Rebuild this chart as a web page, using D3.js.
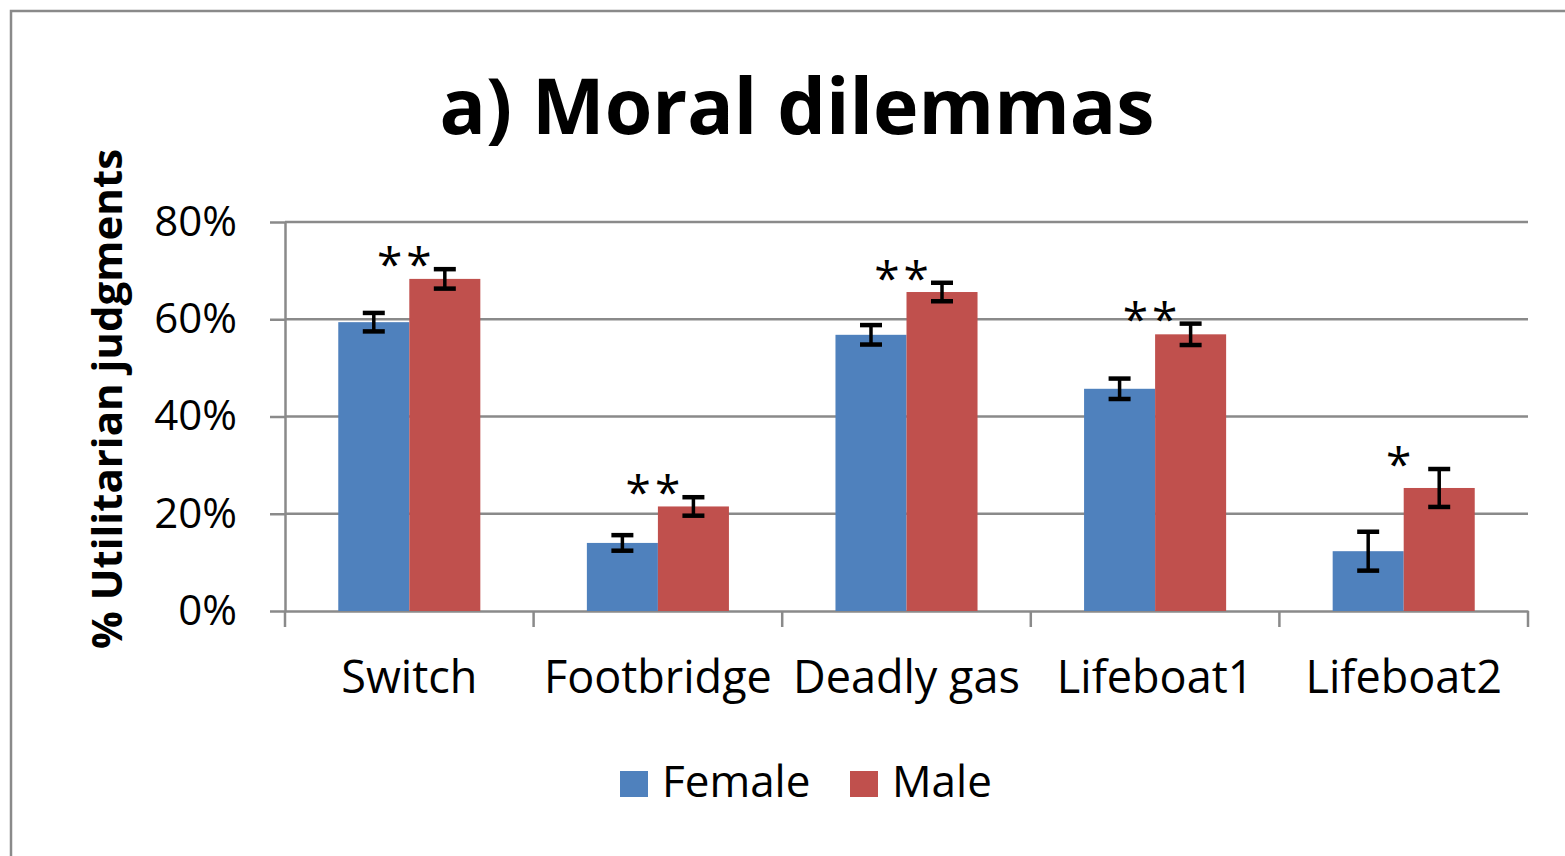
<!DOCTYPE html>
<meta charset="utf-8">
<head>
<style>
body { margin: 0; background: #fff; }
text { font-family: "Open Sans", sans-serif; fill: #000; }
.grid line { stroke: #8a8a8a; stroke-width: 2.5px; }
.axis path, .axis line { stroke: #8a8a8a; stroke-width: 2.5px; }
.axis text { font-size: 42px; }
.err { stroke: #000; stroke-width: 3.5px; }
</style>
</head>
<body>
<script src="https://d3js.org/d3.v7.min.js"></script>
<script>

// data
var categories = ["Switch", "Footbridge", "Deadly gas", "Lifeboat1", "Lifeboat2"];
var seriesNames = ["Female", "Male"];
var female = [0.594, 0.140, 0.568, 0.457, 0.123];
var male = [0.683, 0.215, 0.656, 0.569, 0.253];
var femaleErr = [0.019, 0.016, 0.020, 0.021, 0.040];
var maleErr = [0.020, 0.019, 0.019, 0.022, 0.039];
var signif = ["**", "**", "**", "**", "*"];
var yTicks = [0, 0.2, 0.4, 0.6, 0.8];
var colors = ["#4f81bd", "#c0504d"];

var W = 1565, H = 856;
var margin = {top: 222, right: 37, bottom: 245, left: 285},
    width = W - margin.left - margin.right,
    height = H - margin.top - margin.bottom;

var svg = d3.select("body").append("svg")
    .attr("width", W)
    .attr("height", H);

// outer frame (runs off the right and bottom edges)
svg.append("rect")
    .attr("x", 11).attr("y", 11)
    .attr("width", W + 20).attr("height", H + 20)
    .attr("fill", "none")
    .attr("stroke", "#8a8a8a")
    .attr("stroke-width", 2.5);

var g = svg.append("g")
    .attr("transform", "translate(" + margin.left + "," + margin.top + ")");

var x0 = d3.scaleBand().domain(categories).range([0, width]).padding(0);
var x1 = d3.scaleBand().domain(seriesNames).range([0, x0.bandwidth()])
    .paddingInner(0).paddingOuter(0.75);
var y = d3.scaleLinear().domain([0, 0.8]).range([height, 0]);

// gridlines
g.append("g").attr("class", "grid")
  .selectAll("line")
  .data(yTicks.slice(1))
  .enter().append("line")
    .attr("x1", 0).attr("x2", width)
    .attr("y1", function(d) { return y(d); })
    .attr("y2", function(d) { return y(d); });

// y axis
var yAxis = g.append("g").attr("class", "axis")
    .call(d3.axisLeft(y).tickValues(yTicks)
      .tickFormat(d3.format(".0%")).tickSize(15).tickPadding(33).tickSizeOuter(0));

// x axis: labels centred, ticks on category boundaries
var xAxis = g.append("g").attr("class", "axis")
    .attr("transform", "translate(0," + height + ")")
    .call(d3.axisBottom(x0).tickSize(0).tickPadding(50).tickSizeOuter(0));
xAxis.selectAll(".tick line").remove();
xAxis.selectAll(".tick text").style("font-size", "45px");

var bounds = categories.map(function(c) { return x0(c); }).concat([width]);
xAxis.selectAll(".bound")
  .data(bounds)
  .enter().append("line")
    .attr("class", "bound")
    .attr("x1", function(d) { return d; })
    .attr("x2", function(d) { return d; })
    .attr("y1", 0).attr("y2", 16);

// bars
var rows = categories.map(function(c, i) {
  return {cat: c, vals: [
    {s: "Female", v: female[i], e: femaleErr[i]},
    {s: "Male", v: male[i], e: maleErr[i]}
  ], sig: signif[i]};
});

var grp = g.selectAll(".cat")
  .data(rows)
  .enter().append("g")
    .attr("class", "cat")
    .attr("transform", function(d) { return "translate(" + x0(d.cat) + ",0)"; });

grp.selectAll("rect")
  .data(function(d) { return d.vals; })
  .enter().append("rect")
    .attr("x", function(d) { return x1(d.s); })
    .attr("width", x1.bandwidth())
    .attr("y", function(d) { return y(d.v); })
    .attr("height", function(d) { return height - y(d.v); })
    .attr("fill", function(d, i) { return colors[i]; });

// error bars
var capW = 11;
var eb = grp.selectAll(".eb")
  .data(function(d) { return d.vals; })
  .enter().append("g")
    .attr("class", "err")
    .attr("transform", function(d) { return "translate(" + (x1(d.s) + x1.bandwidth() / 2) + ",0)"; });
eb.append("line")
    .attr("x1", 0).attr("x2", 0)
    .attr("y1", function(d) { return y(d.v + d.e); })
    .attr("y2", function(d) { return y(d.v - d.e); });
eb.append("line")
    .attr("x1", -capW).attr("x2", capW)
    .attr("y1", function(d) { return y(d.v + d.e); })
    .attr("y2", function(d) { return y(d.v + d.e); })
    .style("stroke-width", "4.5px");
eb.append("line")
    .attr("x1", -capW).attr("x2", capW)
    .attr("y1", function(d) { return y(d.v - d.e); })
    .attr("y2", function(d) { return y(d.v - d.e); })
    .style("stroke-width", "4.5px");

// significance stars
grp.append("text")
    .attr("x", x0.bandwidth() / 2 - 3)
    .attr("y", function(d) { return y(d.vals[1].v + d.vals[1].e) + 12; })
    .attr("text-anchor", "middle")
    .attr("font-size", 46)
    .style("letter-spacing", "4px")
    .text(function(d) { return d.sig; });

// title
svg.append("text")
    .attr("x", 797).attr("y", 134)
    .attr("text-anchor", "middle")
    .attr("font-size", 77)
    .attr("font-weight", "bold")
    .text("a) Moral dilemmas");

// y axis title
svg.append("text")
    .attr("transform", "translate(122,399) rotate(-90)")
    .attr("text-anchor", "middle")
    .attr("font-size", 42)
    .attr("font-weight", "bold")
    .text("% Utilitarian judgments");

// legend
var leg = svg.append("g")
    .attr("transform", "translate(620,771)");
var li = leg.selectAll("g")
  .data(seriesNames)
  .enter().append("g")
    .attr("transform", function(d, i) { return "translate(" + (i * 230) + ",0)"; });
li.append("rect")
    .attr("width", 28).attr("height", 26)
    .attr("fill", function(d, i) { return colors[i]; });
li.append("text")
    .attr("x", 42).attr("y", 26)
    .attr("font-size", 44)
    .text(function(d) { return d; });

</script>
</body>
